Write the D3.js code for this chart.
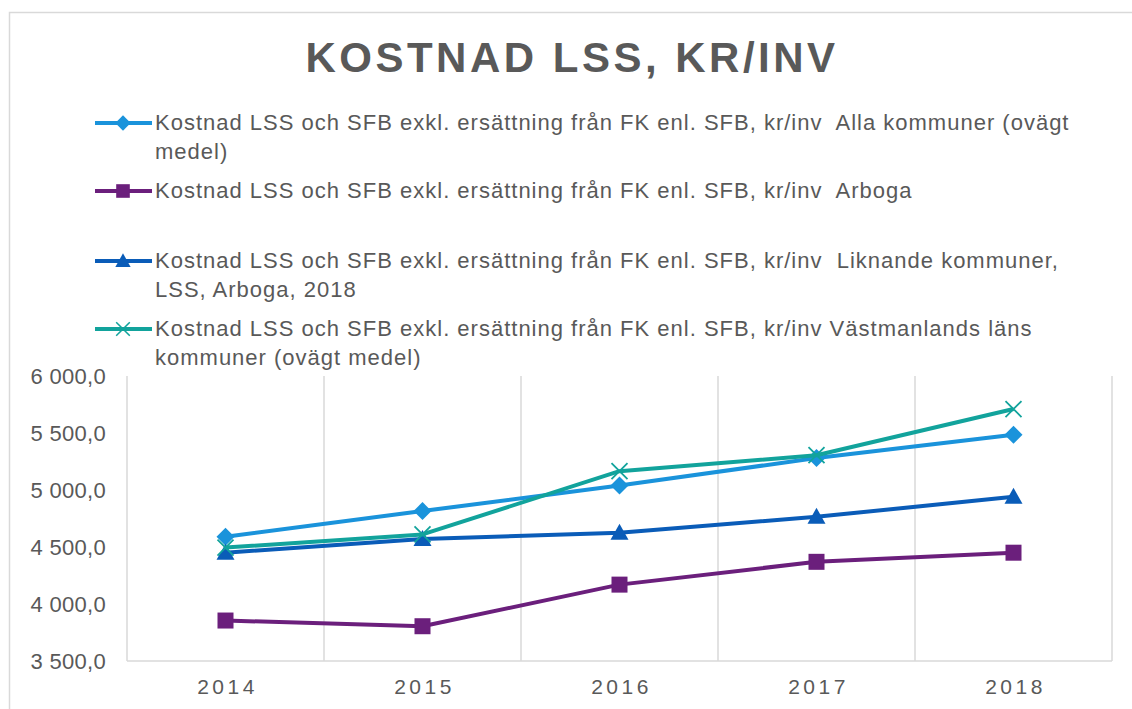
<!DOCTYPE html>
<html>
<head>
<meta charset="utf-8">
<script src="https://cdn.jsdelivr.net/npm/d3@7"></script>
<style>
  body { margin: 0; background: #fff; }
  text { font-family: "Liberation Sans", Arial, sans-serif; fill: #595959; white-space: pre; }
</style>
</head>
<body>
<div id="chart"></div>
<script>
// data
var years = ["2014", "2015", "2016", "2017", "2018"]
var alla = [4590, 4815, 5040, 5280, 5485]
var arboga = [3855, 3805, 4170, 4370, 4450]
var liknande = [4450, 4570, 4625, 4765, 4940]
var vastmanland = [4495, 4610, 5165, 5305, 5710]
var yTicks = [3500, 4000, 4500, 5000, 5500, 6000]

var seriesNames = [
  ["Kostnad LSS och SFB exkl. ersättning från FK enl. SFB, kr/inv  Alla kommuner (ovägt", "medel)"],
  ["Kostnad LSS och SFB exkl. ersättning från FK enl. SFB, kr/inv  Arboga"],
  ["Kostnad LSS och SFB exkl. ersättning från FK enl. SFB, kr/inv  Liknande kommuner,", "LSS, Arboga, 2018"],
  ["Kostnad LSS och SFB exkl. ersättning från FK enl. SFB, kr/inv Västmanlands läns", "kommuner (ovägt medel)"]
]
var seriesValues = [alla, arboga, liknande, vastmanland]
var colors = ["#1a93db", "#6b1f7c", "#0a5cb8", "#12a39c"]
var markers = ["diamond", "square", "triangle", "x"]

var W = 1132, H = 709
var margin = {top: 376, right: 20, bottom: 48, left: 127}
var plotW = 985, plotH = 285

var svg = d3.select("#chart").append("svg")
    .attr("width", W)
    .attr("height", H)

// chart area border
svg.append("path")
    .attr("d", "M9.5," + H + " V12.5 H" + W)
    .attr("fill", "none")
    .attr("stroke", "#d9d9d9")
    .attr("stroke-width", 1.5)

svg.append("text")
    .attr("x", 572)
    .attr("y", 72)
    .attr("text-anchor", "middle")
    .style("font-size", "42px")
    .style("font-weight", "bold")
    .style("letter-spacing", "3.5px")
    .text("KOSTNAD LSS, KR/INV")

var g = svg.append("g")
    .attr("transform", "translate(" + margin.left + "," + margin.top + ")")

var x = d3.scaleBand().domain(years).range([0, plotW])
var y = d3.scaleLinear().domain([3500, 6000]).range([plotH, 0])

// vertical gridlines between categories
g.selectAll("line.grid")
  .data(d3.range(years.length + 1))
  .enter().append("line")
    .attr("class", "grid")
    .attr("x1", function(d) { return d * x.step() })
    .attr("x2", function(d) { return d * x.step() })
    .attr("y1", 0)
    .attr("y2", plotH)
    .attr("stroke", "#d9d9d9")
    .attr("stroke-width", 1.5)

g.append("line")
    .attr("x1", 0).attr("x2", plotW)
    .attr("y1", plotH).attr("y2", plotH)
    .attr("stroke", "#d9d9d9")
    .attr("stroke-width", 1.5)

// y axis labels
g.selectAll("text.ytick")
  .data(yTicks)
  .enter().append("text")
    .attr("class", "ytick")
    .attr("x", -21)
    .attr("y", function(d) { return y(d) + 8 })
    .attr("text-anchor", "end")
    .style("font-size", "22px")
    .style("letter-spacing", "0.3px")
    .text(function(d) { return d3.format(",.1f")(d).replace(",", " ").replace(".", ",") })

// x axis labels
g.selectAll("text.xtick")
  .data(years)
  .enter().append("text")
    .attr("class", "xtick")
    .attr("x", function(d) { return x(d) + x.bandwidth() / 2 + 2 })
    .attr("y", plotH + 33)
    .attr("text-anchor", "middle")
    .style("font-size", "21px")
    .style("letter-spacing", "3.5px")
    .text(function(d) { return d })

function drawMarker(sel, type, color) {
  if (type == "diamond") {
    sel.append("path").attr("d", "M0,-9 L9,0 L0,9 L-9,0 Z").attr("fill", color)
  } else if (type == "square") {
    sel.append("rect").attr("x", -8).attr("y", -8).attr("width", 16).attr("height", 16).attr("fill", color)
  } else if (type == "triangle") {
    sel.append("path").attr("d", "M0,-9 L9,7 L-9,7 Z").attr("fill", color)
  } else {
    sel.append("path").attr("d", "M-8,-8 L8,8 M-8,8 L8,-8").attr("stroke", color).attr("stroke-width", 1.8).attr("fill", "none")
  }
}

var line = d3.line()
    .x(function(d, i) { return x(years[i]) + x.bandwidth() / 2 })
    .y(function(d) { return y(d) })

seriesValues.forEach(function(vals, s) {
  g.append("path")
      .datum(vals)
      .attr("d", line)
      .attr("fill", "none")
      .attr("stroke", colors[s])
      .attr("stroke-width", 4)
      .attr("stroke-linejoin", "round")
  vals.forEach(function(v, i) {
    var m = g.append("g")
        .attr("transform", "translate(" + (x(years[i]) + x.bandwidth() / 2) + "," + y(v) + ")")
    drawMarker(m, markers[s], colors[s])
  })
})

// legend
var legendY = [123, 191, 261, 329]
seriesNames.forEach(function(lines, s) {
  var lg = svg.append("g").attr("transform", "translate(0," + legendY[s] + ")")
  lg.append("line")
      .attr("x1", 95).attr("x2", 152)
      .attr("y1", 0).attr("y2", 0)
      .attr("stroke", colors[s])
      .attr("stroke-width", 4)
  var m = lg.append("g").attr("transform", "translate(123,0) scale(0.85)")
  drawMarker(m, markers[s], colors[s])
  lines.forEach(function(t, k) {
    lg.append("text")
        .attr("x", 155)
        .attr("y", 7 + k * 29)
        .style("font-size", "22px")
        .style("letter-spacing", "1px")
        .text(t)
  })
})
</script>
</body>
</html>
